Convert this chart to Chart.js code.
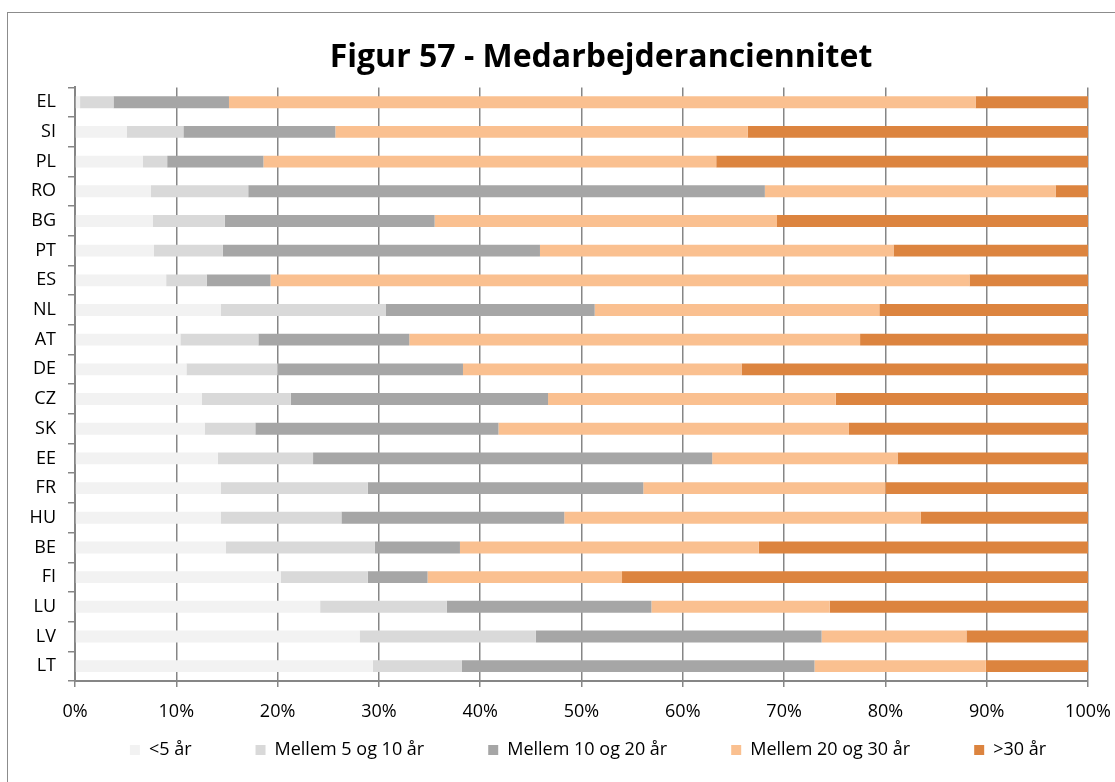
<!DOCTYPE html>
<html>
<head>
<meta charset="utf-8">
<script src="https://cdn.jsdelivr.net/npm/chart.js@4/dist/chart.umd.min.js"></script>
<style>
    html, body { margin: 0; padding: 0; background: #fff; }
    #wrap { position: relative; width: 1115px; height: 782px; overflow: hidden; }
    #frame { position: absolute; left: 7px; top: 12px; width: 1200px; height: 900px; border: 1px solid #8c8c8c; }
    #chart { position: absolute; left: 0; top: 0; }
</style>
</head>
<body>
<div id="wrap">
    <div id="frame"></div>
    <canvas id="chart" width="1115" height="782"></canvas>
</div>
<script>
const countries = ['EL', 'SI', 'PL', 'RO', 'BG', 'PT', 'ES', 'NL', 'AT', 'DE', 'CZ', 'SK', 'EE', 'FR', 'HU', 'BE', 'FI', 'LU', 'LV', 'LT'];

const under5 = [0.5, 5.1, 6.7, 7.5, 7.7, 7.8, 9.0, 14.4, 10.4, 11.0, 12.5, 12.8, 14.1, 14.4, 14.4, 14.9, 20.3, 24.2, 28.1, 29.4];
const from5to10 = [3.3, 5.6, 2.4, 9.6, 7.1, 6.8, 4.0, 16.3, 7.7, 9.0, 8.8, 5.0, 9.4, 14.5, 11.9, 14.7, 8.6, 12.5, 17.4, 8.8];
const from10to20 = [11.4, 15.0, 9.5, 51.0, 20.7, 31.3, 6.3, 20.6, 14.9, 18.3, 25.4, 24.0, 39.4, 27.2, 22.0, 8.4, 5.9, 20.2, 28.2, 34.8];
const from20to30 = [73.7, 40.7, 44.7, 28.7, 33.8, 34.9, 69.0, 28.1, 44.5, 27.5, 28.4, 34.6, 18.3, 23.9, 35.2, 29.5, 19.2, 17.6, 14.3, 16.9];
const over30 = [11.1, 33.6, 36.7, 3.2, 30.7, 19.2, 11.7, 20.6, 22.5, 34.2, 24.9, 23.6, 18.8, 20.0, 16.5, 32.5, 46.0, 25.5, 12.0, 10.1];

const seriesNames = ['<5 år', 'Mellem 5 og 10 år', 'Mellem 10 og 20 år', 'Mellem 20 og 30 år', '>30 år'];
const seriesColors = ['#F2F2F2', '#D9D9D9', '#A6A6A6', '#FAC090', '#DC843F'];
const xTicks = [0, 10, 20, 30, 40, 50, 60, 70, 80, 90, 100];

const fontFamily = "'Open Sans', 'DejaVu Sans', sans-serif";
const axisGray = '#868686';
const legendPadding = 64;
const legendFontSize = 18;

// Excel centres title and legend on a frame wider than the window, so nudge them right
const shiftBlocks = {
    id: 'shiftBlocks',
    afterLayout: function (chart) {
        const title = chart.titleBlock;
        title.left += 51;
        title.right += 51;

        const legend = chart.legend;
        legend.top = 750 - legendPadding - legendFontSize / 2;
        legend.bottom = 782;
        legend.left += 38;
        legend.right += 38;
    },
};

const ctx = document.getElementById('chart');

new Chart(ctx, {
    type: 'bar',
    data: {
        labels: countries,
        datasets: [under5, from5to10, from10to20, from20to30, over30].map((values, i) => ({
            label: seriesNames[i],
            data: values,
            backgroundColor: seriesColors[i],
            borderWidth: 0,
            categoryPercentage: 1,
            barPercentage: 0.4,
        })),
    },
    options: {
        indexAxis: 'y',
        responsive: false,
        animation: false,
        layout: {
            padding: { left: 12, right: 27, top: 39, bottom: 0 },
        },
        scales: {
            x: {
                stacked: true,
                min: 0,
                max: 100,
                afterBuildTicks: function (scale) {
                    scale.ticks = xTicks.map((v) => ({ value: v }));
                },
                afterFit: function (scale) {
                    scale.height = 40;
                    scale.paddingLeft = 0;
                    scale.paddingRight = 0;
                },
                ticks: {
                    callback: (v) => v + '%',
                    color: '#000',
                    padding: 14,
                    font: { family: fontFamily, size: 18 },
                },
                grid: {
                    color: axisGray,
                    lineWidth: 1.5,
                    tickLength: 6,
                },
                border: { color: axisGray, width: 2 },
            },
            y: {
                stacked: true,
                afterFit: function (scale) {
                    scale.width = 63;
                },
                ticks: {
                    color: '#000',
                    padding: 12,
                    font: { family: fontFamily, size: 18 },
                },
                grid: {
                    offset: true,
                    drawOnChartArea: false,
                    color: axisGray,
                    lineWidth: 1.5,
                    tickLength: 7,
                },
                border: { color: axisGray, width: 2 },
            },
        },
        plugins: {
            title: {
                display: true,
                text: 'Figur 57 - Medarbejderanciennitet',
                color: '#000',
                font: { family: fontFamily, size: 32, weight: 'bold' },
                padding: { top: 0, bottom: 10 },
            },
            legend: {
                position: 'bottom',
                maxHeight: 61,
                labels: {
                    color: '#000',
                    boxWidth: 10,
                    boxHeight: 10,
                    padding: legendPadding,
                    font: { family: fontFamily, size: legendFontSize },
                },
            },
            tooltip: { enabled: false },
        },
    },
    plugins: [shiftBlocks],
});
</script>
</body>
</html>
